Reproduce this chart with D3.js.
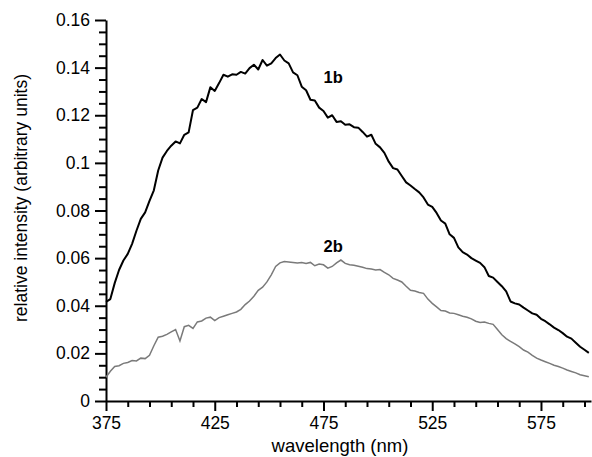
<!DOCTYPE html>
<html>
<head>
<meta charset="utf-8">
<script src="https://cdn.jsdelivr.net/npm/d3@7"></script>
<style>
  body { margin: 0; background: #fff; }
  svg { display: block; font-family: "Liberation Sans", Arial, sans-serif; }
  .axis path, .axis line { stroke: #000; stroke-width: 2; }
  .axis text { font-size: 17.5px; fill: #000; }
</style>
</head>
<body>
<div id="chart"></div>
<script>
// wavelength grid (nm) and the two spectra
const wavelength = [
  375,377,379,381,383,385,387,389,391,393,395,397,399,401,403,405,407,409,411,413,
  415,417,419,421,423,425,427,429,431,433,435,437,439,441,443,445,447,449,451,453,
  455,457,459,461,463,465,467,469,471,473,475,477,479,481,483,485,487,489,491,493,
  495,497,499,501,503,505,507,509,511,513,515,517,519,521,523,525,527,529,531,533,
  535,537,539,541,543,545,547,549,551,553,555,557,559,561,563,565,567,569,571,573,
  575,577,579,581,583,585,587,589,591,593,595,597
];
const series1b = [
  0.0416,0.0428,0.0495,0.0550,0.0590,0.0618,0.0660,0.0715,0.0765,0.0792,0.0840,0.0885,0.0968,0.1022,0.1050,0.1072,0.1090,0.1082,0.1118,0.1128,
  0.1222,0.1232,0.1268,0.1255,0.1318,0.1302,0.1335,0.1370,0.1362,0.1372,0.1370,0.1382,0.1375,0.1398,0.1412,0.1392,0.1432,0.1408,0.1418,0.1440,
  0.1455,0.1430,0.1418,0.1380,0.1368,0.1320,0.1305,0.1265,0.1262,0.1232,0.1218,0.1190,0.1200,0.1172,0.1175,0.1160,0.1162,0.1150,0.1148,0.1130,
  0.1110,0.1118,0.1080,0.1065,0.1042,0.1005,0.0978,0.0972,0.0945,0.0918,0.0905,0.0890,0.0876,0.0855,0.0825,0.0815,0.0790,0.0758,0.0745,0.0700,
  0.0685,0.0645,0.0625,0.0615,0.0600,0.0590,0.0580,0.0562,0.0525,0.0518,0.0500,0.0482,0.0460,0.0418,0.0410,0.0405,0.0392,0.0380,0.0368,0.0362,
  0.0345,0.0335,0.0322,0.0308,0.0298,0.0285,0.0270,0.0262,0.0245,0.0228,0.0215,0.0202
];
const series2b = [
  0.0100,0.0125,0.0145,0.0148,0.0158,0.0162,0.0170,0.0168,0.0180,0.0178,0.0192,0.0232,0.0268,0.0272,0.0280,0.0290,0.0300,0.0252,0.0312,0.0318,
  0.0305,0.0332,0.0336,0.0348,0.0352,0.0338,0.0350,0.0356,0.0362,0.0368,0.0374,0.0385,0.0405,0.0420,0.0440,0.0465,0.0478,0.0500,0.0530,0.0565,
  0.0580,0.0586,0.0584,0.0582,0.0580,0.0582,0.0578,0.0582,0.0568,0.0575,0.0572,0.0558,0.0565,0.0580,0.0592,0.0578,0.0572,0.0570,0.0566,0.0562,
  0.0556,0.0554,0.0550,0.0552,0.0540,0.0530,0.0515,0.0508,0.0500,0.0482,0.0465,0.0462,0.0456,0.0452,0.0428,0.0410,0.0395,0.0380,0.0378,0.0370,
  0.0368,0.0362,0.0356,0.0352,0.0345,0.0335,0.0330,0.0332,0.0326,0.0322,0.0300,0.0278,0.0262,0.0250,0.0240,0.0228,0.0214,0.0205,0.0192,0.0180,
  0.0172,0.0165,0.0158,0.0150,0.0145,0.0138,0.0130,0.0124,0.0118,0.0110,0.0106,0.0102
];
const xTicks = [375, 425, 475, 525, 575];
const yTicks = [0, 0.02, 0.04, 0.06, 0.08, 0.1, 0.12, 0.14, 0.16];
const labels = [
  { text: "1b", x: 475, y: 0.1335 },
  { text: "2b", x: 475, y: 0.0625 }
];

const width = 592;
const height = 457;
const marginTop = 20;
const marginRight = 1;
const marginBottom = 56;
const marginLeft = 106;

const svg = d3.select("#chart").append("svg")
  .attr("width", width)
  .attr("height", height);

const x = d3.scaleLinear()
  .domain([375, 598])
  .range([marginLeft, width - marginRight]);

const y = d3.scaleLinear()
  .domain([0, 0.16])
  .range([height - marginBottom, marginTop]);

// minor ticks first, then major ticks with labels
svg.append("g")
  .attr("class", "axis")
  .attr("transform", `translate(0,${height - marginBottom})`)
  .call(d3.axisBottom(x).tickValues(d3.range(385, 598, 10).filter(d => (d - 375) % 50 !== 0))
    .tickSize(6).tickFormat(""))
  .select(".domain").remove();

svg.append("g")
  .attr("class", "axis")
  .attr("transform", `translate(${marginLeft},0)`)
  .call(d3.axisLeft(y).tickValues(d3.range(0, 33).map(i => i * 0.005).filter((d, i) => i % 4 !== 0))
    .tickSize(7).tickFormat(""))
  .select(".domain").remove();

svg.append("g")
  .attr("class", "axis")
  .attr("transform", `translate(0,${height - marginBottom})`)
  .call(d3.axisBottom(x).tickValues(xTicks).tickSize(10).tickSizeOuter(0).tickPadding(6));

svg.append("g")
  .attr("class", "axis")
  .attr("transform", `translate(${marginLeft},0)`)
  .call(d3.axisLeft(y).tickValues(yTicks).tickSize(11).tickSizeOuter(0).tickPadding(5)
    .tickFormat(d => d === 0 ? "0" : String(+d.toFixed(2))));

svg.selectAll(".axis text").attr("font-family", null);

const line = d3.line()
  .x((d, i) => x(wavelength[i]))
  .y(d => y(d));

svg.append("path")
  .datum(series2b)
  .attr("fill", "none")
  .attr("stroke", "#7a7a7a")
  .attr("stroke-width", 1.5)
  .attr("d", line);

svg.append("path")
  .datum(series1b)
  .attr("fill", "none")
  .attr("stroke", "#000")
  .attr("stroke-width", 2)
  .attr("stroke-linejoin", "round")
  .attr("d", line);

svg.selectAll("text.series-label")
  .data(labels)
  .enter().append("text")
  .attr("class", "series-label")
  .attr("x", d => x(d.x))
  .attr("y", d => y(d.y))
  .attr("font-size", 16.5)
  .attr("font-weight", "bold")
  .text(d => d.text);

svg.append("text")
  .attr("x", 340)
  .attr("y", 452)
  .attr("text-anchor", "middle")
  .attr("font-size", 18.5)
  .text("wavelength (nm)");

svg.append("text")
  .attr("transform", "translate(27,198) rotate(-90)")
  .attr("text-anchor", "middle")
  .attr("font-size", 17.5)
  .text("relative intensity (arbitrary units)");
</script>
</body>
</html>
